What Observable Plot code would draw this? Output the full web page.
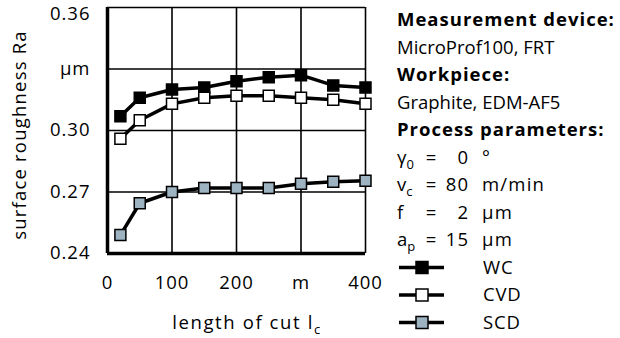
<!DOCTYPE html>
<html>
<head>
<meta charset="utf-8">
<script src="https://cdn.jsdelivr.net/npm/d3@7"></script>
<script src="https://cdn.jsdelivr.net/npm/@observablehq/plot@0.6"></script>
<style>
  html, body { margin: 0; padding: 0; background: white; }
  #chart { width: 620px; height: 338px; }
  #chart g[aria-label$="tick label"] text { letter-spacing: 1px; }
</style>
</head>
<body>
<div id="chart"></div>
<script>
// ---- data ----
const lengths = [20, 50, 100, 150, 200, 250, 300, 350, 400];
const wcValues  = [0.307, 0.316, 0.320, 0.321, 0.324, 0.326, 0.327, 0.322, 0.321];
const cvdValues = [0.296, 0.305, 0.313, 0.316, 0.317, 0.317, 0.316, 0.315, 0.313];
const scdValues = [0.249, 0.2645, 0.270, 0.272, 0.272, 0.272, 0.274, 0.275, 0.2755];
const seriesNames = ["WC", "CVD", "SCD"];
const seriesColors = ["#000000", "#ffffff", "#9db3c2"];
const xTicks = [0, 100, 200, 300, 400];
const xTickLabels = ["0", "100", "200", "m", "400"];
const yTicks = [0.24, 0.27, 0.30, 0.33, 0.36];
const yTickLabels = ["0.24", "0.27", "0.30", "µm", "0.36"];

const infoLines = [
  {text: "Measurement device:", bold: true},
  {text: "MicroProf100, FRT"},
  {text: "Workpiece:", bold: true},
  {text: "Graphite, EDM-AF5"},
  {text: "Process parameters:", bold: true}
];
const params = [
  {sym: "γ", sub: "0", num: "0", unit: "°"},
  {sym: "v", sub: "c", num: "80", unit: "m/min"},
  {sym: "f", sub: "", num: "2", unit: "µm"},
  {sym: "a", sub: "p", num: "15", unit: "µm"}
];

// ---- build table ----
const allValues = [wcValues, cvdValues, scdValues];
const data = [];
seriesNames.forEach((s, i) => {
  lengths.forEach((x, j) => data.push({series: s, x, y: allValues[i][j]}));
});

const FONT = "'Open Sans', sans-serif";
const FS = 18.5;
const yFmt = d => yTickLabels[yTicks.findIndex(t => Math.abs(t - d) < 1e-9)];

const chart = Plot.plot({
  width: 620,
  height: 338,
  marginLeft: 107,
  marginRight: 255,
  marginTop: 7,
  marginBottom: 85,
  style: {fontFamily: FONT, fontSize: FS + "px", color: "black", background: "white", overflow: "visible"},
  x: {domain: [0, 400], label: null},
  y: {domain: [0.24, 0.36], label: null},
  color: {domain: seriesNames, range: seriesColors},
  marks: [
    Plot.gridX(xTicks, {stroke: "black", strokeOpacity: 1, strokeWidth: 1.6}),
    Plot.gridY(yTicks, {stroke: "black", strokeOpacity: 1, strokeWidth: 1.6}),
    Plot.axisX(xTicks, {tickSize: 0, tickPadding: 22, tickFormat: d => xTickLabels[xTicks.indexOf(d)], label: null}),
    Plot.axisY(yTicks.slice(0, 4), {tickSize: 0, tickPadding: 17, tickFormat: yFmt, label: null}),
    Plot.axisY(yTicks.slice(4), {tickSize: 0, tickPadding: 17, tickFormat: yFmt, label: null, dy: 6.5}),
    Plot.ruleX([0], {stroke: "black", strokeWidth: 3.5}),
    Plot.ruleY([0.24], {stroke: "black", strokeWidth: 3.5}),
    Plot.line(data, {x: "x", y: "y", z: "series", stroke: "black", strokeWidth: 3.5}),
    Plot.dot(data, {x: "x", y: "y", symbol: "square", r: 6.2, fill: "series", stroke: "black", strokeWidth: 1.5})
  ]
});

document.getElementById("chart").appendChild(chart);

const svg = d3.select(chart);
const txt = (x, y, anchor = "start") => svg.append("text")
  .attr("x", x).attr("y", y).attr("text-anchor", anchor)
  .attr("font-family", FONT).attr("font-size", FS).attr("fill", "black");

// axis titles
svg.append("text")
  .attr("transform", "translate(26,135) rotate(-90)")
  .attr("text-anchor", "middle")
  .attr("letter-spacing", 1.2)
  .attr("font-family", FONT).attr("font-size", FS).attr("fill", "black")
  .text("surface roughness Ra");

const xl = txt(247, 329, "middle").attr("letter-spacing", 1.6);
xl.append("tspan").text("length of cut l");
xl.append("tspan").attr("font-size", 13).attr("dy", 5).text("c");

// right info panel
const X0 = 397, B0 = 26, STEP = 27.5;
infoLines.forEach((l, i) => {
  txt(X0, B0 + STEP * i)
    .attr("font-weight", l.bold ? "bold" : "normal")
    .attr("letter-spacing", l.bold ? 1 : 0)
    .text(l.text);
});
params.forEach((p, k) => {
  const y = B0 + STEP * (infoLines.length + k);
  const t = txt(X0, y);
  t.append("tspan").text(p.sym);
  if (p.sub) t.append("tspan").attr("font-size", 13).attr("dy", 5).text(p.sub);
  txt(431, y, "middle").text("=");
  txt(469, y, "end").attr("letter-spacing", 1).text(p.num);
  txt(482, y).attr("letter-spacing", 1.2).text(p.unit);
});

// legend
seriesNames.forEach((s, i) => {
  const y = B0 + STEP * (infoLines.length + params.length + i);
  const cy = y - 6;
  svg.append("line").attr("x1", 399).attr("x2", 444).attr("y1", cy).attr("y2", cy)
    .attr("stroke", "black").attr("stroke-width", 3.5);
  svg.append("rect").attr("x", 416).attr("y", cy - 6).attr("width", 12).attr("height", 12)
    .attr("fill", seriesColors[i]).attr("stroke", "black").attr("stroke-width", 1.5);
  txt(483, y).attr("letter-spacing", 0.8).text(s);
});
</script>
</body>
</html>
